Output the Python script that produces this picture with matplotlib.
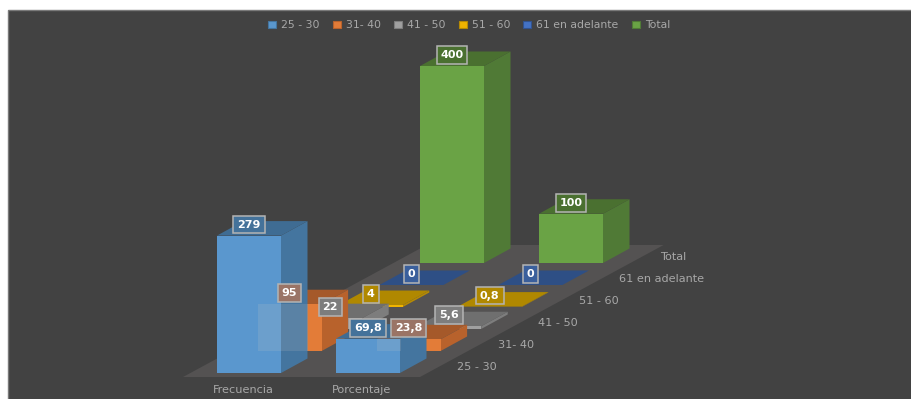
import matplotlib
matplotlib.use("Agg")
import matplotlib.pyplot as plt
from matplotlib.patches import Polygon, Rectangle

categories = ["Frecuencia", "Porcentaje"]
series = ["25 - 30", "31- 40", "41 - 50", "51 - 60", "61 en adelante", "Total"]
frecuencia = [279, 95, 22, 4, 0, 400]
porcentaje = [69.8, 23.8, 5.6, 0.8, 0, 100]
value_labels = [["279", "95", "22", "4", "0", "400"],
                ["69,8", "23,8", "5,6", "0,8", "0", "100"]]
values = [frecuencia, porcentaje]

front_colors = ["#5a97ce", "#e37c38", "#a0a0a0", "#f0b400", "#4472c4", "#6aa345"]
side_colors = ["#44759f", "#b8622c", "#7d7d7d", "#b68a04", "#31538f", "#507a36"]
top_colors = ["#3f6c93", "#a5592a", "#6f6f6f", "#b08800", "#2e4f85", "#4a7030"]
label_fill = ["#44729a", "#9a7466", "#7d7d7d", "#b08800", "#3a5f9c", "#4a7030"]

W, H = 912, 399
X0, Y0 = 217, 373        # front-left foot of first bar (pixels)
BAR_W = 64
CAT_DX = 119
ROW_DX, ROW_DY = 40.6, 22
DEPTH_X, DEPTH_Y = 26.5, 14.5
SCALE = 0.4925           # pixels per unit

TEXT = "#a8a8a8"

fig = plt.figure(figsize=(W / 100, H / 100), dpi=100, facecolor="white")
ax = fig.add_axes([0, 0, 1, 1])
ax.set_xlim(0, W)
ax.set_ylim(H, 0)
ax.axis("off")

ax.add_patch(Rectangle((8.5, 9.5), 910, 400, fc="#424242", ec="#7a7a7a", lw=1, zorder=0))

n = len(series)
floor_l = X0 - 34
floor_r = X0 + BAR_W + CAT_DX + 20
floor_front = Y0 + 4
floor_d = (n * ROW_DY)
floor_dx = floor_d * ROW_DX / ROW_DY
ax.add_patch(Polygon([(floor_l, floor_front), (floor_r, floor_front),
                      (floor_r + floor_dx, floor_front - floor_d),
                      (floor_l + floor_dx, floor_front - floor_d)],
                     fc="#545252", ec="none", zorder=1))


def bar(cat, row, value, z):
    x = X0 + cat * CAT_DX + row * ROW_DX
    yb = Y0 - row * ROW_DY
    yt = yb - value * SCALE
    ax.add_patch(Polygon([(x + BAR_W, yb), (x + BAR_W + DEPTH_X, yb - DEPTH_Y),
                          (x + BAR_W + DEPTH_X, yt - DEPTH_Y), (x + BAR_W, yt)],
                         fc=side_colors[row], ec="none", zorder=z))
    ax.add_patch(Polygon([(x, yt), (x + BAR_W, yt),
                          (x + BAR_W + DEPTH_X, yt - DEPTH_Y), (x + DEPTH_X, yt - DEPTH_Y)],
                         fc=top_colors[row], ec="none", zorder=z))
    if value > 0:
        ax.add_patch(Rectangle((x, yt), BAR_W, yb - yt, fc=front_colors[row],
                               ec="none", zorder=z))
    return x, yb, yt


labels = []
for row in range(n - 1, -1, -1):
    for cat in range(len(categories)):
        z = 2 + (n - row)
        v = values[cat][row]
        x, yb, yt = bar(cat, row, v, z)
        labels.append((x + BAR_W / 2, yt - 11, value_labels[cat][row], row))
        # the back bar shows faintly through the first row
        if row == 1:
            ax.add_patch(Rectangle((x, yt), BAR_W - 14 if cat == 0 else 24, yb - yt,
                                   fc="#c8c8c8", alpha=0.17, ec="none", zorder=20))

for x, y, s, row in labels:
    ax.text(x, y, s, ha="center", va="center", color="white", fontsize=8.0,
            fontweight="bold", zorder=30,
            bbox=dict(boxstyle="square,pad=0.35", fc=label_fill[row],
                      ec="#b4b4b4", lw=1.1))

for cat, name in enumerate(categories):
    ax.text(X0 + BAR_W / 2 - 6 + cat * CAT_DX - 0, 390, name, ha="center", va="center",
            color=TEXT, fontsize=8.1, zorder=5)

for row, name in enumerate(series):
    ax.text(457 + row * ROW_DX, 367 - row * ROW_DY, name, ha="left", va="center",
            color=TEXT, fontsize=8.1, zorder=5)

handles = [Rectangle((0, 0), 1, 1, fc=front_colors[i], ec=side_colors[i], lw=0.8)
           for i in range(n)]
ax.legend(handles, series, ncol=n, frameon=False, loc="center",
          bbox_to_anchor=(469 / W, 1 - 25 / H), bbox_transform=fig.transFigure,
          fontsize=7.8, labelcolor=TEXT, handlelength=0.75, handleheight=0.6,
          handletextpad=0.45, columnspacing=1.22, borderpad=0, borderaxespad=0)

fig.savefig("out.png", dpi=100, facecolor="white")
